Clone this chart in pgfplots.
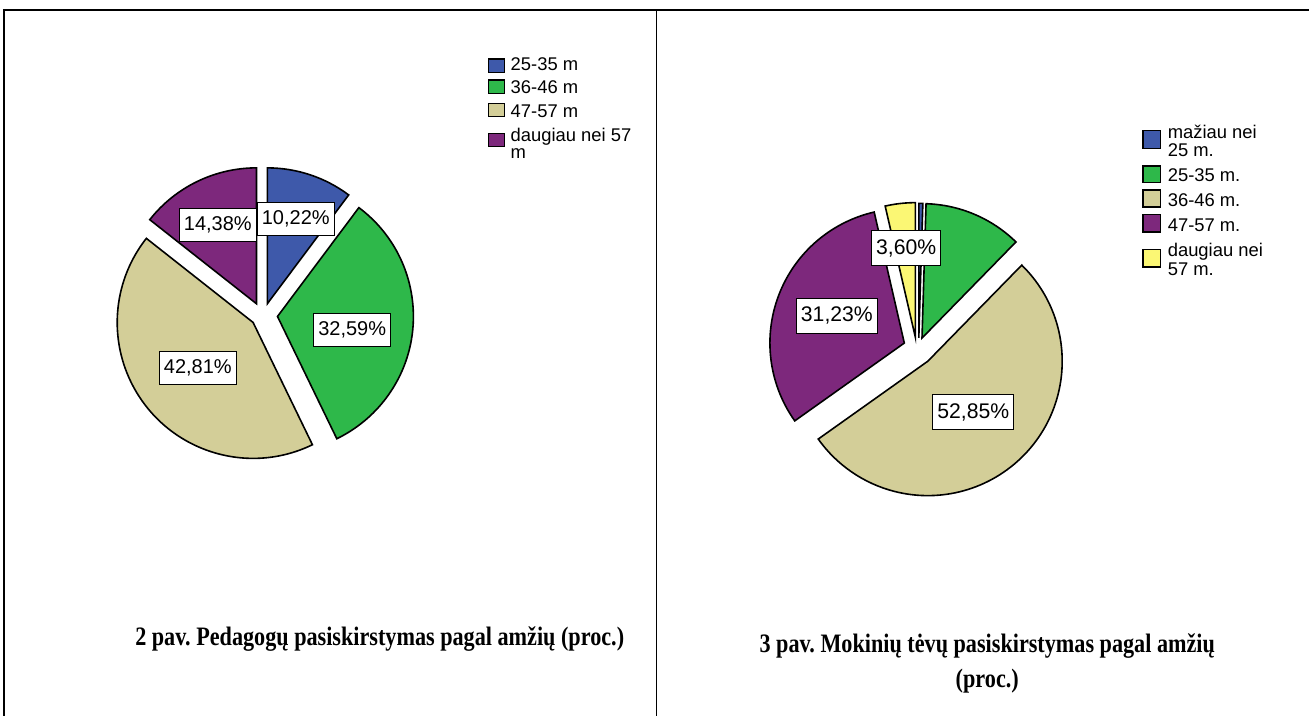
\documentclass[border=0pt]{standalone}
\usepackage{fontspec}
\setmainfont{Liberation Serif}
\newfontfamily\arial{Liberation Sans}
\usepackage{pgfplots}
\pgfplotsset{compat=1.18}
\frenchspacing

\definecolor{cblue}{RGB}{62,89,170}
\definecolor{cgreen}{RGB}{46,184,74}
\definecolor{ctan}{RGB}{211,206,152}
\definecolor{cpurple}{RGB}{125,40,124}
\definecolor{cyellow}{RGB}{251,247,116}

% one pie slice: apex x, apex y (px), start %, share %, colour, radius (px)
% slices run clockwise from 12 o'clock, 1 px = 0.5pt
\newcommand{\slice}[6]{%
  \filldraw[fill=#5, draw=black, line width=0.8pt, line join=miter]
    (axis cs:#1,#2) -- ++({90-3.6*#3}:{#6*0.5pt})
    arc[start angle={90-3.6*#3}, end angle={90-3.6*(#3+#4)}, radius={#6*0.5pt}]
    -- cycle;}
% legend key: x0, y0, x1, y1, colour
\newcommand{\key}[5]{%
  \filldraw[fill=#5, draw=black, line width=0.65pt] (axis cs:#1,#2) rectangle (axis cs:#3,#4);}
% caption text is set tall and narrow in the reference
\newcommand{\tall}[1]{\scalebox{1}[1.2]{#1}}

\tikzset{
  lab/.style={draw=black, line width=0.5pt, fill=white, inner xsep=2.3pt, inner ysep=0pt,
              minimum height=16.5pt, font=\arial\fontsize{10}{12}\selectfont},
  labr/.style={lab, minimum height=17.6pt, font=\arial\fontsize{10.6}{12}\selectfont},
  leg/.style={anchor=base west, inner sep=0pt, font=\arial\fontsize{9.2}{10}\selectfont},
  ttl/.style={anchor=base, inner sep=0pt, font=\bfseries\fontsize{11.1}{13}\selectfont},
}

\begin{document}
\begin{tikzpicture}
\begin{axis}[
  width=655pt, height=358.5pt, scale only axis,
  xmin=0, xmax=1310, ymin=0, ymax=717, y dir=reverse,
  hide axis, clip=false,
]
\path (axis cs:0,0) rectangle (axis cs:1310,717);

% table rules
\draw[line width=1pt] (axis cs:3,10.5) -- (axis cs:1310,10.5);
\draw[line width=0.7pt] (axis cs:4,10) -- (axis cs:4,717);
\draw[line width=0.7pt] (axis cs:657,10) -- (axis cs:657,717);

% ---- left pie: pedagogues ----
\slice{267.5}{304}{0}{10.22}{cblue}{136}
\slice{277.7}{316.7}{10.22}{32.59}{cgreen}{136}
\slice{253.3}{322.7}{42.81}{42.81}{ctan}{136}
\slice{256.7}{304}{85.62}{14.38}{cpurple}{136}

\node[lab] at (axis cs:296,219) {10,22\%};
\node[lab] at (axis cs:218,225) {14,38\%};
\node[lab] at (axis cs:352.5,330) {32,59\%};
\node[lab] at (axis cs:198,368) {42,81\%};

\key{489}{59}{505}{72.3}{cblue}
\key{489}{80}{505}{93.3}{cgreen}
\key{489}{103.3}{505}{116.7}{ctan}
\key{489}{133.3}{505}{146.7}{cpurple}
\node[leg] at (axis cs:510.7,70.7) {25-35 m};
\node[leg] at (axis cs:510.7,94) {36-46 m};
\node[leg] at (axis cs:510.7,117.3) {47-57 m};
\node[leg] at (axis cs:510.7,141.7) {daugiau nei 57};
\node[leg] at (axis cs:510.7,158.3) {m};

\node[ttl] at (axis cs:380,646) {\tall{2 pav. Pedagogų pasiskirstymas pagal amžių (proc.)}};

% ---- right pie: parents ----
\slice{919.5}{338}{0}{0.48}{cblue}{134.5}
\slice{922.7}{338.3}{0.48}{11.84}{cgreen}{134.5}
\slice{928.5}{361.5}{12.32}{52.85}{ctan}{134.5}
\slice{905}{343.3}{65.17}{31.23}{cpurple}{134.5}
\slice{916}{337.3}{96.40}{3.60}{cyellow}{134.5}

\node[labr] at (axis cs:906.8,248.3) {3,60\%};
\node[labr] at (axis cs:837.5,316) {31,23\%};
\node[labr] at (axis cs:974,412.5) {52,85\%};

\key{1144}{130.7}{1161.7}{148.3}{cblue}
\key{1144}{166}{1161.7}{182.7}{cgreen}
\key{1144}{190}{1161.7}{207.3}{ctan}
\key{1144}{215}{1161.7}{232.3}{cpurple}
\key{1144}{250}{1161.7}{267.3}{cyellow}
\node[leg] at (axis cs:1168.3,138.3) {mažiau nei};
\node[leg] at (axis cs:1168.3,156.7) {25 m.};
\node[leg] at (axis cs:1168.3,181.7) {25-35 m.};
\node[leg] at (axis cs:1168.3,206.7) {36-46 m.};
\node[leg] at (axis cs:1168.3,231.7) {47-57 m.};
\node[leg] at (axis cs:1168.3,256.7) {daugiau nei};
\node[leg] at (axis cs:1168.3,275.7) {57 m.};

\node[ttl] at (axis cs:988,653) {\tall{3 pav. Mokinių tėvų pasiskirstymas pagal amžių}};
\node[ttl] at (axis cs:988,688) {\tall{(proc.)}};
\end{axis}
\end{tikzpicture}
\end{document}
